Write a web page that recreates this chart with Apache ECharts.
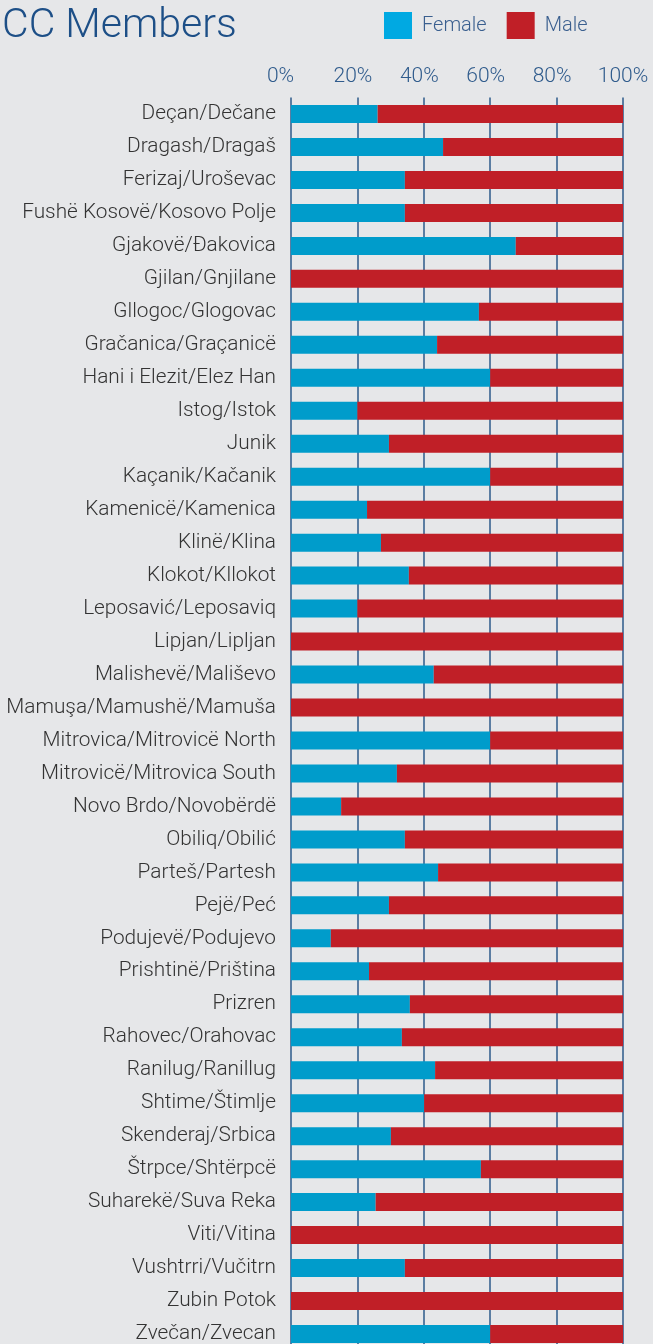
<!DOCTYPE html>
<html>
<head>
<meta charset="utf-8">
<script src="https://cdn.jsdelivr.net/npm/echarts@6/dist/echarts.min.js"></script>
<style>
  html, body { margin: 0; padding: 0; background: #e6e7e9; overflow: hidden; }
  #chart { width: 653px; height: 1360px; }
</style>
</head>
<body>
<div id="chart"></div>
<script>
// municipalities, top to bottom
const categories = [
    'Deçan/Dečane', 'Dragash/Dragaš', 'Ferizaj/Uroševac', 'Fushë Kosovë/Kosovo Polje',
    'Gjakovë/Đakovica', 'Gjilan/Gnjilane', 'Gllogoc/Glogovac', 'Gračanica/Graçanicë',
    'Hani i Elezit/Elez Han', 'Istog/Istok', 'Junik', 'Kaçanik/Kačanik',
    'Kamenicë/Kamenica', 'Klinë/Klina', 'Klokot/Kllokot', 'Leposavić/Leposaviq',
    'Lipjan/Lipljan', 'Malishevë/Mališevo', 'Mamuşa/Mamushë/Mamuša', 'Mitrovica/Mitrovicë North',
    'Mitrovicë/Mitrovica South', 'Novo Brdo/Novobërdë', 'Obiliq/Obilić', 'Parteš/Partesh',
    'Pejë/Peć', 'Podujevë/Podujevo', 'Prishtinë/Priština', 'Prizren',
    'Rahovec/Orahovac', 'Ranilug/Ranillug', 'Shtime/Štimlje', 'Skenderaj/Srbica',
    'Štrpce/Shtërpcë', 'Suharekë/Suva Reka', 'Viti/Vitina', 'Vushtrri/Vučitrn',
    'Zubin Potok', 'Zvečan/Zvecan'
];

// share of female members, %
const female = [
    26.1, 45.8, 34.3, 34.3, 67.7, 0, 56.6, 44.0,
    60.0, 20.0, 29.5, 60.0, 22.9, 27.1, 35.5, 20.0,
    0, 43.0, 0, 60.0, 31.9, 15.1, 34.3, 44.3,
    29.5, 12.0, 23.5, 35.8, 33.4, 43.4, 40.1, 30.1,
    57.2, 25.5, 0, 34.3, 0, 60.0
];

// share of male members, %
const male = [
    73.9, 54.2, 65.7, 65.7, 32.3, 100, 43.4, 56.0,
    40.0, 80.0, 70.5, 40.0, 77.1, 72.9, 64.5, 80.0,
    100, 57.0, 100, 40.0, 68.1, 84.9, 65.7, 55.7,
    70.5, 88.0, 76.5, 64.2, 66.6, 56.6, 59.9, 69.9,
    42.8, 74.5, 100, 65.7, 100, 40.0
];

const tickLabels = ['0%', '20%', '40%', '60%', '80%', '100%'];

const font = 'Roboto, "Liberation Sans", sans-serif';
const chart = echarts.init(document.getElementById('chart'));

chart.setOption({
    backgroundColor: '#e6e7e9',
    animation: false,
    title: {
        text: 'CC Members',
        left: -3,
        top: 1,
        textStyle: { fontFamily: font, fontSize: 41, fontWeight: 300, color: '#1d4f87' }
    },
    legend: {
        left: 384,
        top: 12,
        padding: 0,
        itemWidth: 28,
        itemHeight: 27,
        itemGap: 20,
        icon: 'rect',
        textStyle: { fontFamily: font, fontSize: 20, fontWeight: 300, color: '#3a5f8f', padding: [0, 0, 0, 5] },
        data: [
            { name: 'Female', itemStyle: { color: '#00a9e2' } },
            { name: 'Male', itemStyle: { color: '#c01f27' } }
        ]
    },
    grid: {
        left: 291,
        top: 97.5,
        width: 332,
        height: 1253,
        containLabel: false
    },
    xAxis: {
        type: 'value',
        position: 'top',
        min: 0,
        max: 100,
        interval: 20,
        axisLine: { show: false },
        axisTick: { show: false },
        splitLine: { show: true, lineStyle: { color: '#2c5a8a', width: 1.5 } },
        axisLabel: {
            margin: 10,
            formatter: function (v) {
                let i = v / 20;
                let key = i === 0 ? 'a' : (i === 5 ? 'c' : 'b');
                return '{' + key + '|' + tickLabels[i] + '}';
            },
            rich: {
                a: { fontFamily: font, fontSize: 21, fontWeight: 300, color: '#2f5b8c', padding: [0, 21, 0, 0] },
                b: { fontFamily: font, fontSize: 21, fontWeight: 300, color: '#2f5b8c', padding: [0, 9, 0, 0] },
                c: { fontFamily: font, fontSize: 21, fontWeight: 300, color: '#2f5b8c' }
            }
        }
    },
    yAxis: {
        type: 'category',
        inverse: true,
        data: categories,
        axisLine: { show: false },
        axisTick: { show: false },
        axisLabel: { fontFamily: font, fontSize: 20.8, fontWeight: 300, color: '#333333', margin: 15 }
    },
    series: [
        {
            name: 'Female',
            type: 'bar',
            stack: 'all',
            barWidth: 18,
            itemStyle: { color: '#009ccb' },
            data: female
        },
        {
            name: 'Male',
            type: 'bar',
            stack: 'all',
            barWidth: 18,
            itemStyle: { color: '#c01f27' },
            data: male
        }
    ]
});
</script>
</body>
</html>
